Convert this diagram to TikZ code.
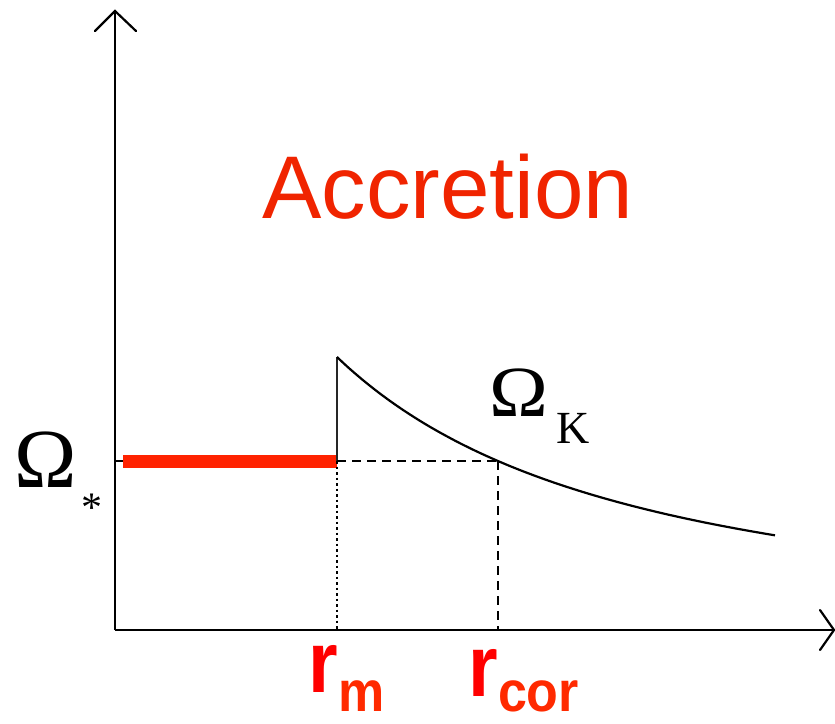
\documentclass[tikz,border=0pt]{standalone}
\usepackage{fontspec}
\setmainfont{Liberation Serif}
\newfontfamily\lsans{Liberation Sans}
\usetikzlibrary{calc}
\definecolor{accred}{HTML}{F02400}
\definecolor{barred}{HTML}{FF2200}
\definecolor{rred}{HTML}{FF0000}
\definecolor{subred}{HTML}{FF2A00}
\begin{document}
\begin{tikzpicture}[x=1pt,y=-1pt,
  axis/.style={line width=2.2pt, black},
  guide/.style={line width=1.8pt, black, dash pattern=on 9pt off 6pt},
  dotguide/.style={line width=1.6pt, black, dash pattern=on 2.5pt off 3pt},
  lbl/.style={inner sep=0pt, outer sep=0pt},
  rlab/.style={lbl, text=rred, font=\lsans\bfseries\fontsize{76}{76}\selectfont, yscale=1.15},
  rsub/.style={lbl, text=subred, font=\lsans\bfseries\fontsize{52}{52}\selectfont, yscale=1.1}]
\useasboundingbox (0,0) rectangle (835,723);
% axes
\coordinate (O) at (115,630);
\coordinate (ytip) at (115,11);
\coordinate (xtip) at (834,630);
\draw[axis] (O) -- (ytip);
\draw[axis, line cap=round, line join=miter] (95,31) -- (ytip) -- (136,31);
\draw[axis] (O) -- (xtip);
\draw[axis, line cap=round] (820,610) -- (xtip) -- (820,650);
% Omega_* tick and red segment
\coordinate (tickL) at (115,461);
\coordinate (rs) at (123,461);
\coordinate (rm) at (337,461);
\draw[axis] (tickL) -- (rs);
\draw[barred, line width=13pt] (rs) -- (rm);
% Keplerian curve
\coordinate (top) at (337,357);
\draw[line width=1.5pt, black!85] (rm) -- (top);
\draw[line width=2.2pt, black] plot[domain=337:775, samples=90, smooth] (\x, {630 - 273*(427/(\x+90))^1.5});
% guides
\coordinate (rc) at (498,461);
\coordinate (rmx) at (337,630);
\coordinate (rcx) at (498,630);
\draw[guide] (rm) -- (rc);
\draw[guide] (rc) -- (rcx);
\draw[dotguide] (rm) -- (rmx);
% labels
\node[lbl, anchor=base, text=accred, font=\lsans\fontsize{89}{89}\selectfont] (acc) at (448,218) {Accretion};
\node[lbl, anchor=base west, font=\fontsize{84}{84}\selectfont] (omst) at (14,487) {Ω};
\node[lbl, font=\fontsize{42}{42}\selectfont] (star) at (92,508) {*};
\node[lbl, anchor=base west, font=\fontsize{72}{72}\selectfont, xscale=1.1] (omk) at (489,416) {Ω};
\node[lbl, anchor=base west, font=\fontsize{46}{46}\selectfont] (k) at (556,443) {K};
\node[rlab, anchor=base west] (r1) at (308,692) {r};
\node[rsub, anchor=base west] (m) at (338,711) {m};
\node[rlab, anchor=base west] (r2) at (468,696) {r};
\node[rsub, anchor=base west] (cor) at (498,711) {cor};
\end{tikzpicture}
\end{document}
